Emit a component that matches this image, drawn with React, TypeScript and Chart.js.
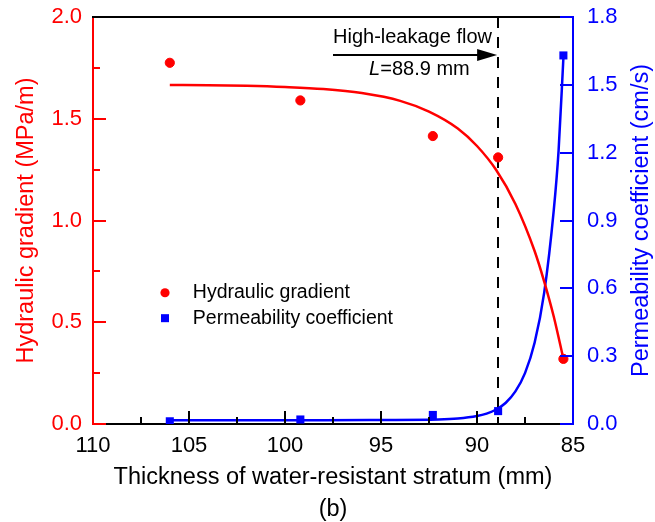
import React, { useEffect, useRef } from 'react';
import { Chart, registerables } from 'chart.js';

Chart.register(...registerables);

const FONT = '"Liberation Sans", Arial, Helvetica, sans-serif';
const RED = '#ff0000';
const BLUE = '#0000ff';

// Measured points
const thickness = [106.0, 99.2, 92.3, 88.9, 85.5];
const hydraulicGradient = [1.775, 1.59, 1.415, 1.31, 0.32];
const permeability = [0.012, 0.02, 0.04, 0.057, 1.63];

// Fitted curves
const gradientFitX = [106.0, 104, 102, 100, 98, 96, 94, 92.5, 91, 90, 89, 88, 87, 86.5, 86, 85.5];
const gradientFitY = [1.666, 1.665, 1.662, 1.656, 1.646, 1.626, 1.588, 1.535, 1.452, 1.366, 1.248, 1.081, 0.85, 0.7, 0.527, 0.32];
const permeabilityFitX = [106.0, 102, 98, 95, 92, 91, 90, 89.5, 89, 88.5, 88, 87.5, 87, 86.5, 86, 85.75, 85.5];
const permeabilityFitY = [0.017, 0.017, 0.017, 0.018, 0.02, 0.024, 0.035, 0.046, 0.064, 0.094, 0.144, 0.225, 0.359, 0.581, 0.947, 1.21, 1.62];

// Axis ticks
const xMajorTicks = [105, 100, 95, 90];
const xMinorTicks = [107.5, 102.5, 97.5, 92.5, 87.5];
const leftMajorTicks = [0, 0.5, 1.0, 1.5];
const leftMinorTicks = [0.25, 0.75, 1.25, 1.75];
const rightMajorTicks = [0, 0.3, 0.6, 0.9, 1.2, 1.5, 1.8];

// Annotation
const criticalThickness = 88.9;
const arrowStartX = 97.5;
const arrowY = 1.813;
const arrowLabel = 'High-leakage flow';
const arrowLabelY = 1.9;
const criticalLabelX = 93.0;
const criticalLabelY = 1.74;

// Legend
const legendLabels = ['Hydraulic gradient', 'Permeability coefficient'];
const legendMarkerX = 106.25;
const legendTextX = 104.8;
const legendY = [0.645, 0.52];

const xTitle = 'Thickness of water-resistant stratum (mm)';
const panelLabel = '(b)';
const leftTitle = 'Hydraulic gradient (MPa/m)';
const rightTitle = 'Permeability coefficient (cm/s)';

const toPoints = (xs: number[], ys: number[]) => xs.map((v, i) => ({ x: v, y: ys[i] }));

const decorPlugin = {
  id: 'decor',
  beforeDatasetsDraw(chart: any) {
    const { ctx, chartArea, scales } = chart;
    const px = Math.round(scales.x.getPixelForValue(criticalThickness));
    ctx.save();
    ctx.strokeStyle = '#000';
    ctx.lineWidth = 2;
    ctx.setLineDash([11, 9]);
    ctx.beginPath();
    ctx.moveTo(px, chartArea.top);
    ctx.lineTo(px, chartArea.bottom);
    ctx.stroke();
    ctx.restore();
  },
  afterDraw(chart: any) {
    const { ctx, chartArea, scales } = chart;
    const { left, right, top, bottom } = chartArea;
    const x = scales.x;
    const y = scales.y;
    const y1 = scales.y1;
    const seg = (a: number, b: number, c: number, d: number) => {
      ctx.beginPath();
      ctx.moveTo(a, b);
      ctx.lineTo(c, d);
      ctx.stroke();
    };
    ctx.save();
    ctx.setLineDash([]);
    ctx.lineWidth = 2;

    // x ticks (inward)
    ctx.strokeStyle = '#000';
    xMajorTicks.forEach((v) => {
      const p = Math.round(x.getPixelForValue(v));
      seg(p, bottom, p, bottom - 13);
    });
    xMinorTicks.forEach((v) => {
      const p = Math.round(x.getPixelForValue(v));
      seg(p, bottom, p, bottom - 7);
    });

    // left ticks
    ctx.strokeStyle = RED;
    leftMajorTicks.forEach((v) => {
      const p = Math.round(y.getPixelForValue(v));
      seg(left, p, left + 13, p);
    });
    leftMinorTicks.forEach((v) => {
      const p = Math.round(y.getPixelForValue(v));
      seg(left, p, left + 7, p);
    });

    // top frame
    ctx.strokeStyle = '#000';
    seg(left - 1, Math.round(top), right, Math.round(top));

    // right ticks
    ctx.strokeStyle = BLUE;
    rightMajorTicks.forEach((v) => {
      const p = Math.round(y1.getPixelForValue(v));
      seg(right, p, right - 13, p);
    });

    // arrow
    const ax0 = x.getPixelForValue(arrowStartX);
    const ax1 = x.getPixelForValue(criticalThickness) - 1;
    const ay = Math.round(y.getPixelForValue(arrowY));
    ctx.strokeStyle = '#000';
    ctx.fillStyle = '#000';
    seg(ax0, ay, ax1 - 16, ay);
    ctx.beginPath();
    ctx.moveTo(ax1, ay);
    ctx.lineTo(ax1 - 20, ay - 6);
    ctx.lineTo(ax1 - 20, ay + 6);
    ctx.closePath();
    ctx.fill();

    ctx.textBaseline = 'middle';
    ctx.textAlign = 'left';
    ctx.font = `20px ${FONT}`;
    ctx.fillText(arrowLabel, ax0, y.getPixelForValue(arrowLabelY));

    // L=88.9 mm
    const lPart = 'L';
    const rest = `=${criticalThickness} mm`;
    ctx.font = `italic 20px ${FONT}`;
    const wL = ctx.measureText(lPart).width;
    ctx.font = `20px ${FONT}`;
    const wR = ctx.measureText(rest).width;
    const cx = x.getPixelForValue(criticalLabelX);
    const cy = y.getPixelForValue(criticalLabelY);
    const sx = cx - (wL + wR) / 2;
    ctx.font = `italic 20px ${FONT}`;
    ctx.fillText(lPart, sx, cy);
    ctx.font = `20px ${FONT}`;
    ctx.fillText(rest, sx + wL, cy);

    // legend
    const mx = x.getPixelForValue(legendMarkerX);
    const tx = x.getPixelForValue(legendTextX);
    const ly0 = y.getPixelForValue(legendY[0]);
    const ly1 = y.getPixelForValue(legendY[1]);
    ctx.fillStyle = RED;
    ctx.beginPath();
    ctx.arc(mx, ly0, 4.6, 0, Math.PI * 2);
    ctx.fill();
    ctx.fillStyle = BLUE;
    ctx.fillRect(mx - 4, ly1 - 4, 8, 8);
    ctx.fillStyle = '#000';
    ctx.font = `19.5px ${FONT}`;
    ctx.fillText(legendLabels[0], tx, ly0);
    ctx.fillText(legendLabels[1], tx, ly1);

    // right axis title (reads bottom-to-top)
    ctx.save();
    ctx.translate(642, (top + bottom) / 2);
    ctx.rotate(-Math.PI / 2);
    ctx.textAlign = 'center';
    ctx.textBaseline = 'middle';
    ctx.fillStyle = BLUE;
    ctx.font = `23.5px ${FONT}`;
    ctx.fillText(rightTitle, 0, 0);
    ctx.restore();

    ctx.restore();
  },
};

const zeroPad = (s: any) => {
  s.paddingTop = 0;
  s.paddingBottom = 0;
  s.paddingLeft = 0;
  s.paddingRight = 0;
};

export default function App() {
  const ref = useRef<HTMLCanvasElement>(null);

  useEffect(() => {
    const canvas = ref.current;
    if (!canvas) return;
    const chart = new Chart(canvas, {
      type: 'scatter',
      data: {
        datasets: [
          {
            label: legendLabels[0],
            data: toPoints(thickness, hydraulicGradient),
            yAxisID: 'y',
            backgroundColor: RED,
            borderColor: RED,
            pointStyle: 'circle',
            pointRadius: 4.6,
            showLine: false,
          },
          {
            label: legendLabels[1],
            data: toPoints(thickness, permeability),
            yAxisID: 'y1',
            backgroundColor: BLUE,
            borderColor: BLUE,
            pointStyle: 'rect',
            pointRadius: 5.7,
            borderWidth: 0,
            showLine: false,
          },
          {
            label: 'Hydraulic gradient fit',
            data: toPoints(gradientFitX, gradientFitY),
            yAxisID: 'y',
            borderColor: RED,
            borderWidth: 2.5,
            pointRadius: 0,
            showLine: true,
            fill: false,
            cubicInterpolationMode: 'monotone',
          },
          {
            label: 'Permeability coefficient fit',
            data: toPoints(permeabilityFitX, permeabilityFitY),
            yAxisID: 'y1',
            borderColor: BLUE,
            borderWidth: 2.5,
            pointRadius: 0,
            showLine: true,
            fill: false,
            cubicInterpolationMode: 'monotone',
          },
        ],
      },
      options: {
        responsive: false,
        animation: false,
        devicePixelRatio: 1,
        layout: { padding: { top: 17, left: 0, right: 0, bottom: 0 } },
        plugins: {
          legend: { display: false },
          tooltip: { enabled: false },
        },
        scales: {
          x: {
            type: 'linear',
            position: 'bottom',
            reverse: true,
            min: 85,
            max: 110,
            grid: { display: false, drawTicks: false },
            border: { display: true, color: '#000', width: 2 },
            ticks: {
              stepSize: 5,
              color: '#000',
              font: { size: 22, family: FONT },
              padding: 9,
              maxRotation: 0,
              autoSkip: false,
              callback: (v: any) => String(v),
            },
            title: {
              display: true,
              text: [xTitle, panelLabel],
              color: '#000',
              font: { size: 23.5, family: FONT, lineHeight: 1.38 },
              padding: { top: 0, bottom: -4 },
            },
            afterFit: (s: any) => {
              s.height = 98;
              zeroPad(s);
            },
          },
          y: {
            type: 'linear',
            position: 'left',
            min: 0,
            max: 2,
            grid: { display: false, drawTicks: false },
            border: { display: true, color: RED, width: 2 },
            ticks: {
              stepSize: 0.5,
              color: RED,
              font: { size: 22, family: FONT },
              padding: 11,
              callback: (v: any) => Number(v).toFixed(1),
            },
            title: {
              display: true,
              text: leftTitle,
              color: RED,
              font: { size: 23.5, family: FONT },
              padding: { top: 12, bottom: 0 },
            },
            afterFit: (s: any) => {
              s.width = 93;
              zeroPad(s);
            },
          },
          y1: {
            type: 'linear',
            position: 'right',
            min: 0,
            max: 1.8,
            grid: { display: false, drawTicks: false },
            border: { display: true, color: BLUE, width: 2 },
            ticks: {
              stepSize: 0.3,
              color: BLUE,
              font: { size: 22, family: FONT },
              padding: 14,
              callback: (v: any) => Number(v).toFixed(1),
            },
            afterFit: (s: any) => {
              s.width = 82;
              zeroPad(s);
            },
          },
        },
      } as any,
      plugins: [decorPlugin],
    });
    return () => chart.destroy();
  }, []);

  return (
    <div style={{ position: 'fixed', left: 0, top: 0, width: 655, height: 522, background: '#fff' }}>
      <canvas ref={ref} width={655} height={522} style={{ display: 'block', width: 655, height: 522 }} />
    </div>
  );
}
